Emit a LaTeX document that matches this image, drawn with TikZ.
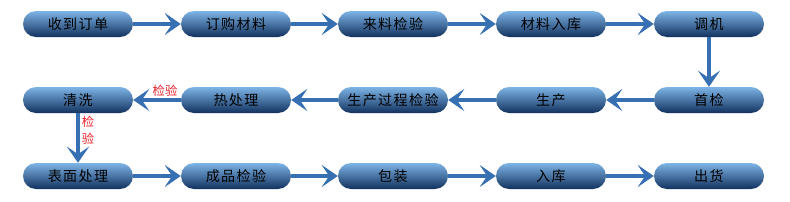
\documentclass[tikz,border=0pt]{standalone}
\usepackage{fontspec}
\newfontfamily\cjk{Noto Sans CJK SC}[LetterSpace=10]
\newfontfamily\cjkmark{Noto Sans CJK SC}
\usetikzlibrary{arrows.meta}
\definecolor{pillTop}{RGB}{125,180,230}
\definecolor{pillMid}{RGB}{72,135,198}
\definecolor{pillBot}{RGB}{18,50,95}
\definecolor{flow}{RGB}{55,112,178}
\definecolor{checkRed}{RGB}{232,35,45}

\begin{document}
\begin{tikzpicture}[x=0.3mm,y=-0.3mm,
  pill/.style={rounded corners=3.9mm,minimum width=33mm,minimum height=7.8mm,
    inner sep=0pt,top color=pillTop,middle color=pillMid,bottom color=pillBot,
    font=\cjk\fontsize{12}{14}\selectfont},
  flowarrow/.style={flow,line width=1.1mm,
    -{Stealth[length=4.8mm,width=6.6mm,inset=2.2mm]}},
  check/.style={text=checkRed,font=\cjkmark\fontsize{10.5}{14.5}\selectfont,inner sep=0pt}]
  \useasboundingbox (0,0) rectangle (790,201);
  % first row, left to right
  \node[pill] (receive) at (78,24) {收到订单};
  \node[pill] (order) at (236,24) {订购材料};
  \node[pill] (incoming) at (393,24) {来料检验};
  \node[pill] (stock) at (551,24) {材料入库};
  \node[pill] (tuning) at (709,24) {调机};
  % second row, right to left
  \node[pill] (first) at (709,100) {首检};
  \node[pill] (produce) at (551,100) {生产};
  \node[pill] (process) at (393,100) {生产过程检验};
  \node[pill] (heat) at (236,100) {热处理};
  \node[pill] (clean) at (78,100) {清洗};
  % third row
  \node[pill] (surface) at (78,176) {表面处理};
  \node[pill] (final) at (236,176) {成品检验};
  \node[pill] (pack) at (393,176) {包装};
  \node[pill] (store) at (551,176) {入库};
  \node[pill] (ship) at (709,176) {出货};
  \draw[flowarrow] (receive) -- (order);
  \draw[flowarrow] (order) -- (incoming);
  \draw[flowarrow] (incoming) -- (stock);
  \draw[flowarrow] (stock) -- (tuning);
  \draw[flowarrow] (tuning) -- (first);
  \draw[flowarrow] (first) -- (produce);
  \draw[flowarrow] (produce) -- (process);
  \draw[flowarrow] (process) -- (heat);
  \draw[flowarrow] (heat) -- (clean);
  \draw[flowarrow] (clean) -- (surface);
  \draw[flowarrow] (surface) -- (final);
  \draw[flowarrow] (final) -- (pack);
  \draw[flowarrow] (pack) -- (store);
  \draw[flowarrow] (store) -- (ship);
  % inspection marks on the arrows
  \node[check] (heatcheck) at (165,91) {检验};
  \node[check,align=center] (cleancheck) at (88,130) {检\\验};
\end{tikzpicture}
\end{document}
